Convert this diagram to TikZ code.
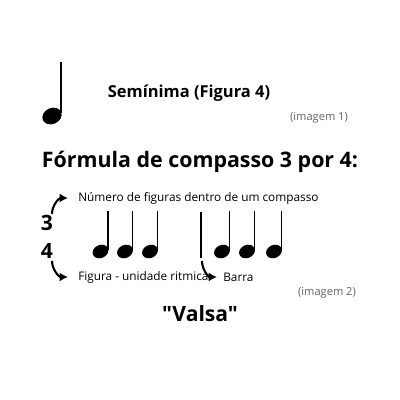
\documentclass[tikz,border=0pt]{standalone}
\usepackage{fontspec}
\setmainfont{Open Sans}
\newfontfamily\straightquotes[Ligatures=ResetAll]{Open Sans}
\definecolor{notegray}{RGB}{100, 100, 100}
\usetikzlibrary{arrows.meta, positioning, calc}
\tikzset{
  headbox/.style={font=\bfseries\fontsize{11.7}{14}\selectfont, inner sep=0pt},
  smalltext/.style={font=\fontsize{8.4}{10}\selectfont, inner sep=0pt},
  imgtag/.style={font=\fontsize{7.9}{9}\selectfont, text=notegray, inner sep=0pt},
  bigdigit/.style={font=\bfseries\fontsize{15}{16}\selectfont, inner sep=0pt},
  curvearrow/.style={-{Latex[length=6pt, width=6.5pt]}, line width=1.5pt}
}
% quarter note: head centre, stem height
\newcommand{\quarternote}[3]{%
  \fill[rotate around={25:(#1,#2)}] (#1,#2) ellipse (8.2 and 6.5);
  \draw[line width=1.1pt] ($(#1,#2)+(7.3,-2)$) -- ++(0,-#3);
}
\begin{document}
\begin{tikzpicture}[x=0.25mm, y=-0.25mm]
  \useasboundingbox (0,0) rectangle (400,400);
  % imagem 1
  \fill[rotate around={25:(52,116)}] (52,116) ellipse (10 and 8);
  \draw[line width=1.4pt] (61,113) -- (61,62);
  \node[headbox] (seminima) at (189,93) {Semínima (Figura 4)};
  \node[imgtag] (img1) at (319,118) {(imagem 1)};

  % imagem 2
  \node[headbox, font=\bfseries\fontsize{15.2}{18}\selectfont] (titulo) at (200,162) {Fórmula de compasso 3 por 4:};
  \node[smalltext, anchor=west] (numero) at (78,198) {Número de figuras dentro de um compasso};
  \node[bigdigit] (three) at (47,223) {3};
  \node[bigdigit] (four) at (47,251) {4};
  \foreach \x in {100.5,125,150} {\quarternote{\x}{251.5}{39}}
  \foreach \x in {222,247,274} {\quarternote{\x}{251.5}{39}}
  \draw[line width=0.8pt] (201,212) -- (201,258) coordinate (barend);
  \node[smalltext, anchor=west] (figura) at (78,277) {Figura - unidade ritmica};
  \node[smalltext, anchor=west] (barra) at (223,277) {Barra};
  \node[imgtag] (img2) at (327,293) {(imagem 2)};
  \node[headbox, font=\straightquotes\bfseries\fontsize{15}{17}\selectfont] (valsa) at (200,314) {"Valsa"};

  \draw[curvearrow] ($(three.north)+(5,-1)$) to[out=90, in=180] ($(numero.west)+(-10,0)$);
  \draw[curvearrow] ($(four.south)+(5,2)$) to[out=-90, in=180] ($(figura.west)+(-10,0)$);
  \draw[curvearrow] ($(barend)+(1,3)$) to[out=-90, in=180] ($(barra.west)+(-6,0)$);
\end{tikzpicture}
\end{document}
